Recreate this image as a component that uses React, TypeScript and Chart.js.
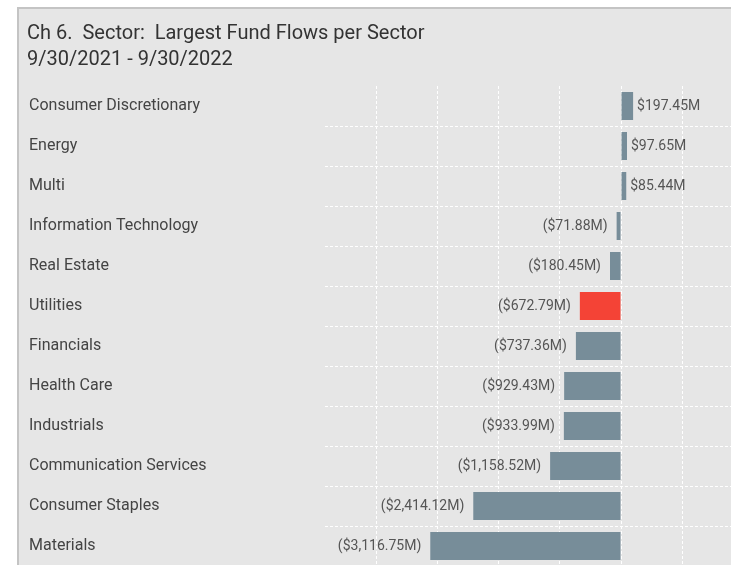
import React, { useEffect, useRef } from "react";
import { Chart, registerables } from "chart.js";

Chart.register(...registerables);

const titleLines = ["Ch 6.  Sector:  Largest Fund Flows per Sector", "9/30/2021 - 9/30/2022"];

const categories = [
  "Consumer Discretionary",
  "Energy",
  "Multi",
  "Information Technology",
  "Real Estate",
  "Utilities",
  "Financials",
  "Health Care",
  "Industrials",
  "Communication Services",
  "Consumer Staples",
  "Materials",
];

const flows = [197.45, 97.65, 85.44, -71.88, -180.45, -672.79, -737.36, -929.43, -933.99, -1158.52, -2414.12, -3116.75];

const highlighted = ["Utilities"];

const gridTicks = [-4000, -3000, -2000, -1000, 0, 1000];

const FONT = "Roboto, 'Noto Sans', sans-serif";
const BAR = "#778d99";
const RED = "#f44336";

function fmt(v: number): string {
  const s = "$" + Math.abs(v).toLocaleString("en-US", { minimumFractionDigits: 2, maximumFractionDigits: 2 }) + "M";
  return v < 0 ? `(${s})` : s;
}

const backgroundPlugin = {
  id: "panelBg",
  beforeDraw(chart: any) {
    const { ctx, width, height } = chart;
    ctx.save();
    ctx.fillStyle = "#ffffff";
    ctx.fillRect(0, 0, width, height);
    ctx.fillStyle = "#c4c4c4";
    ctx.fillRect(17, 7, width - 17, 2);
    ctx.fillRect(17, 7, 2, height - 7);
    ctx.fillStyle = "#e6e6e6";
    ctx.fillRect(19, 9, width - 19, height - 9);
    ctx.fillStyle = "#333333";
    ctx.font = `20px ${FONT}`;
    ctx.textAlign = "left";
    ctx.textBaseline = "alphabetic";
    ctx.fillText(titleLines[0], 27, 39);
    ctx.fillText(titleLines[1], 27, 65);
    ctx.restore();
  },
};

const valueLabelPlugin = {
  id: "valueLabels",
  afterDatasetsDraw(chart: any) {
    const { ctx } = chart;
    const meta = chart.getDatasetMeta(0);
    ctx.save();
    ctx.font = `14px ${FONT}`;
    ctx.fillStyle = "#555555";
    ctx.textBaseline = "middle";
    meta.data.forEach((el: any, i: number) => {
      const v = flows[i];
      if (v >= 0) {
        ctx.textAlign = "left";
        ctx.fillText(fmt(v), el.x + 4, el.y);
      } else {
        ctx.textAlign = "right";
        ctx.fillText(fmt(v), el.x - 9, el.y);
      }
    });
    ctx.restore();
  },
};

export default function App() {
  const canvasRef = useRef<HTMLCanvasElement | null>(null);

  useEffect(() => {
    document.body.style.overflow = "hidden";
    const canvas = canvasRef.current;
    if (!canvas) return;
    const chart = new Chart(canvas, {
      type: "bar",
      data: {
        labels: categories,
        datasets: [
          {
            data: flows,
            backgroundColor: categories.map((c) => (highlighted.includes(c) ? RED : BAR)),
            barPercentage: 0.7,
            categoryPercentage: 1,
            borderWidth: 0,
          },
        ],
      },
      options: {
        indexAxis: "y",
        animation: false,
        responsive: false,
        devicePixelRatio: 1,
        layout: { padding: { left: 29, top: 86, right: 0, bottom: 0 } },
        plugins: {
          legend: { display: false },
          tooltip: { enabled: false },
          title: { display: false },
        },
        scales: {
          x: {
            type: "linear",
            min: -4837,
            max: 1797,
            afterBuildTicks: (scale: any) => {
              scale.ticks = gridTicks.map((v) => ({ value: v }));
            },
            afterFit: (scale: any) => {
              scale.height = 0;
              scale.paddingLeft = 0;
              scale.paddingRight = 0;
            },
            ticks: { display: false },
            grid: { color: "#ffffff", lineWidth: 1, drawTicks: false },
            border: { display: false, dash: [3, 2] },
          },
          y: {
            type: "category",
            afterFit: (scale: any) => {
              scale.width = 296;
              scale.paddingTop = 0;
              scale.paddingBottom = 0;
            },
            ticks: {
              crossAlign: "far",
              color: "#444444",
              font: { family: FONT, size: 16 },
              padding: 0,
            },
            grid: {
              offset: true,
              drawTicks: false,
              lineWidth: 1,
              color: (ctx: any) => (ctx.index === 0 ? "rgba(0,0,0,0)" : "#ffffff"),
            },
            border: { display: false, dash: [3, 2] },
          },
        },
      },
      plugins: [backgroundPlugin, valueLabelPlugin],
    } as any);
    return () => chart.destroy();
  }, []);

  return (
    <div style={{ position: "fixed", left: 0, top: 0, width: 731, height: 566 }}>
      <canvas ref={canvasRef} width={731} height={566} style={{ display: "block", width: 731, height: 566 }} />
    </div>
  );
}
